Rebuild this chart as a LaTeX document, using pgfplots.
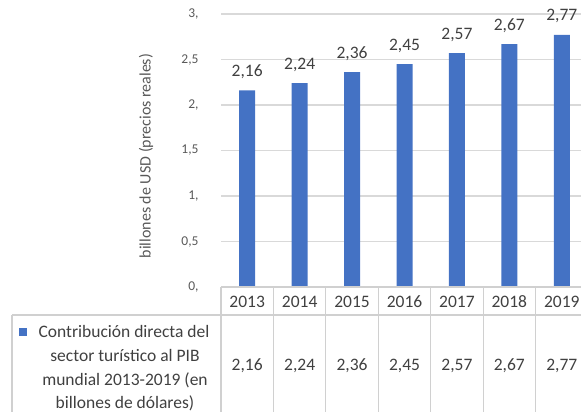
\documentclass[border=0pt]{standalone}
\usepackage{fontspec}
\setmainfont{Carlito}
\usepackage{pgfplots}
\pgfplotsset{compat=1.18}
\definecolor{barblue}{HTML}{4472C4}
\definecolor{gridgray}{HTML}{D9D9D9}
\definecolor{tickgray}{HTML}{595959}
\definecolor{textgray}{HTML}{404040}
\definecolor{linegray}{HTML}{D0D0D0}
\newcommand{\tfont}{\fontsize{17.5}{21}\selectfont}

\begin{document}
\begin{tikzpicture}[x=1pt,y=1pt]
\begin{axis}[
  at={(221pt,-287pt)}, anchor=south west, scale only axis,
  width=367pt, height=273pt,
  xmin=-0.5, xmax=6.5, ymin=0, ymax=3,
  axis line style={draw=none},
  ytick={0,0.5,1,1.5,2,2.5,3},
  yticklabels={{0,},{0,5},{1,},{1,5},{2,},{2,5},{3,}},
  yticklabel style={font=\fontsize{13.5}{16}\selectfont, text=tickgray, anchor=east, xshift=-19pt},
  xtick=\empty,
  major tick length=0pt,
  ymajorgrids, grid style={gridgray, line width=1.2pt},
  clip=false,
  ybar, bar width=16pt,
  nodes near coords,
  nodes near coords style={font=\tfont, text=textgray, anchor=base, yshift=14pt,
    /pgf/number format/use comma, /pgf/number format/fixed,
    /pgf/number format/fixed zerofill, /pgf/number format/precision=2,
    /pgf/number format/assume math mode=true},
]
\addplot[fill=barblue, draw=none] coordinates {
  (0,2.16) (1,2.24) (2,2.36) (3,2.45) (4,2.57) (5,2.67) (6,2.77)
};
\end{axis}

% y axis title
\node[rotate=90, font=\fontsize{16}{19}\selectfont, text=tickgray] at (146,-156) {billones de USD (precios reales)};

% data table
\begin{scope}[linegray, line width=1.2pt]
  \draw (221,-287) -- (600,-287);
  \draw (12,-315) -- (600,-315);
  \draw (12,-315) -- (12,-420);
  \foreach \k in {0,...,7} \draw (221+\k*52.43,-287) -- (221+\k*52.43,-420);
\end{scope}
\foreach \yr [count=\i from 0] in {2013,2014,2015,2016,2017,2018,2019}
  \node[anchor=base, font=\tfont, text=textgray] at (247.2+\i*52.43,-307) {\yr};
\foreach \v [count=\i from 0] in {{2,16},{2,24},{2,36},{2,45},{2,57},{2,67},{2,77}}
  \node[anchor=base, font=\tfont, text=textgray] at (247.2+\i*52.43,-370) {\v};

% legend key and series name
\fill[barblue] (19,-328) rectangle (27,-336);
\node[anchor=base, font=\tfont, text=textgray] at (124,-337) {Contribución directa del};
\node[anchor=base, font=\tfont, text=textgray] at (125,-361) {sector turístico al PIB};
\node[anchor=base, font=\tfont, text=textgray] at (125,-385) {mundial 2013-2019 (en};
\node[anchor=base, font=\tfont, text=textgray] at (125,-408) {billones de dólares)};

\pgfresetboundingbox
\path[use as bounding box] (0,0) rectangle (581,-412);
\end{tikzpicture}
\end{document}
